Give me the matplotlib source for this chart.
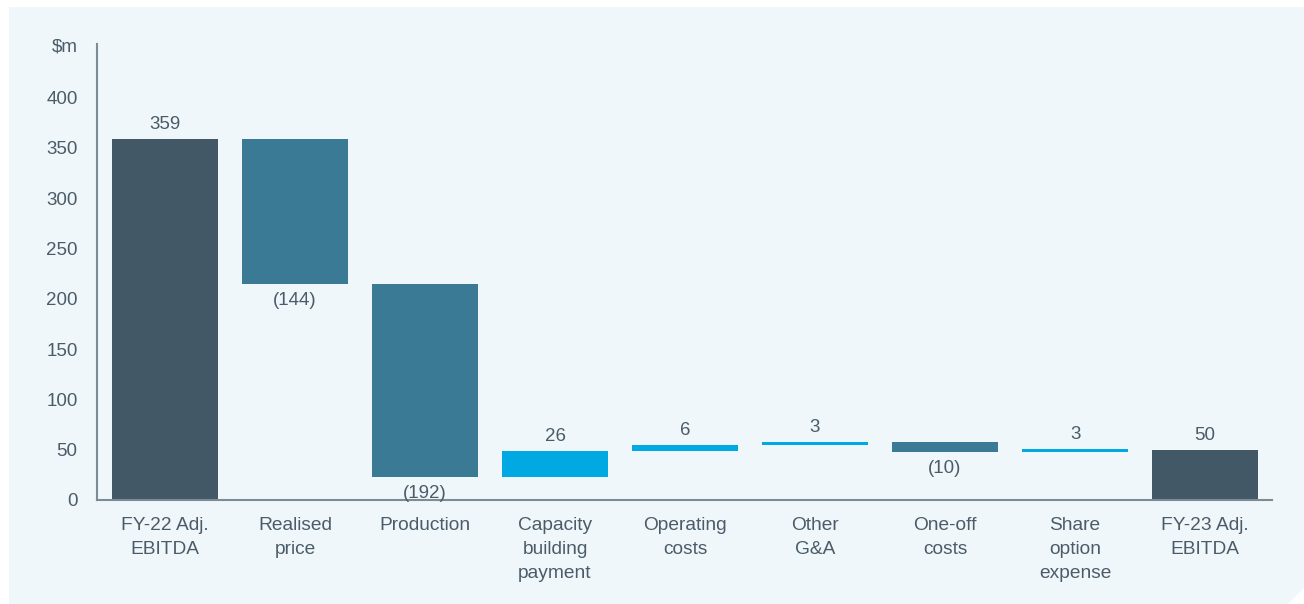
import matplotlib.pyplot as plt
from matplotlib.patches import Polygon
import numpy as np

plt.rcParams['font.family'] = ['Liberation Sans', 'DejaVu Sans']

categories = ["FY-22 Adj.\nEBITDA", "Realised\nprice", "Production", "Capacity\nbuilding\npayment",
              "Operating\ncosts", "Other\nG&A", "One-off\ncosts", "Share\noption\nexpense",
              "FY-23 Adj.\nEBITDA"]
changes = [359, -144, -192, 26, 6, 3, -10, 3, 50]
is_total = [True, False, False, False, False, False, False, False, True]
yticks = [0, 50, 100, 150, 200, 250, 300, 350, 400]

c_total = "#425866"
c_down = "#3a7a94"
c_up = "#00a9e2"
c_text = "#4b5c68"
c_axis = "#7d8b95"
c_panel = "#eff7fb"

W, H = 1304, 604
fig = plt.figure(figsize=(W / 100, H / 100), dpi=100)
fig.patch.set_facecolor("white")

# light panel behind the chart, with the clipped bottom-right corner
pts = [(9, 7), (1304, 7), (1304, 588), (1288, 604), (9, 604)]
fig.patches.append(Polygon([(x / W, 1 - y / H) for x, y in pts], closed=True,
                           transform=fig.transFigure, facecolor=c_panel,
                           edgecolor="none", zorder=-5))

ax = fig.add_axes([97 / W, 104 / H, (1272 - 97) / W, 456 / H])
ax.set_facecolor("none")

x = np.arange(len(categories))
bottoms, heights, colors = [], [], []
running = 0
for val, tot in zip(changes, is_total):
    if tot:
        bottoms.append(0)
        heights.append(val)
        colors.append(c_total)
        running = val
    else:
        bottoms.append(running if val > 0 else running + val)
        heights.append(abs(val))
        colors.append(c_up if val > 0 else c_down)
        running += val

ax.bar(x, heights, bottom=bottoms, width=0.815, color=colors, zorder=2)

# value labels: above bars that go up, below bars that go down
for xi, val, b, h, tot in zip(x, changes, bottoms, heights, is_total):
    if tot or val > 0:
        ax.annotate(f"{val}", (xi, b + h), xytext=(0, 4), textcoords="offset points",
                    ha="center", va="bottom", fontsize=13.5, color=c_text)
    else:
        ax.annotate(f"({abs(val)})", (xi, b), xytext=(0, -6), textcoords="offset points",
                    ha="center", va="top", fontsize=13.5, color=c_text)

ax.set_xlim(-0.523, 8.515)
ax.set_ylim(0, 453)
ax.set_yticks(yticks + [452])
ax.set_yticklabels([str(t) for t in yticks] + ["$m"])
ax.set_xticks(x)
ax.set_xticklabels(categories)
for lbl in ax.get_xticklabels():
    lbl.set_linespacing(1.55)
ax.tick_params(axis="y", length=0, pad=14, labelsize=13.5, labelcolor=c_text)
ax.tick_params(axis="x", length=0, pad=12, labelsize=13.8, labelcolor=c_text)

for side in ["top", "right"]:
    ax.spines[side].set_visible(False)
for side in ["left", "bottom"]:
    ax.spines[side].set_color(c_axis)
    ax.spines[side].set_linewidth(1.5)

fig.savefig("out.png", dpi=100)
